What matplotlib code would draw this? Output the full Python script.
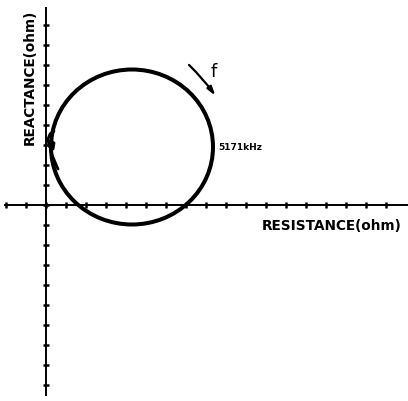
import matplotlib
matplotlib.use("Agg")
import matplotlib.pyplot as plt
from matplotlib.patches import Ellipse


# Impedance locus (data units, one grid step = 1)
loop_center = (4.3, 2.9)
loop_width = 8.1
loop_height = 7.75

# small knot where the locus starts, near the reactance axis
knot_r = [0.4, 0.2, 0.1, 0.15, 0.35, 0.4, 0.25, 0.2, 0.3, 0.6]
knot_x = [3.7, 3.55, 3.3, 2.95, 2.8, 3.1, 3.2, 2.9, 2.5, 1.8]

# axes extents and tick positions
r_axis = [-2.05, 18.1]
x_axis = [-9.5, 9.85]
r_ticks = list(range(-2, 18))
x_ticks = list(range(-9, 10))

freq_label = "5171kHz"
arrow_from = (7.05, 7.1)
arrow_to = (8.55, 5.35)

fig = plt.figure(figsize=(4.08, 4.01), dpi=100)
ax = fig.add_axes([0, 0, 1, 1])
ax.set_xlim(-2.3, 18.1)
ax.set_ylim(-9.8, 10.25)
ax.axis("off")

# axes with tick marks
ax.plot(r_axis, [0, 0], color="black", lw=1.4)
ax.plot([0, 0], x_axis, color="black", lw=1.4)
ax.plot(r_ticks, [0] * len(r_ticks), ls="none", marker="|", ms=5,
        mew=1.8, color="black")
ax.plot([0] * len(x_ticks), x_ticks, ls="none", marker="_", ms=5,
        mew=1.8, color="black")

# the loop itself
ax.add_patch(Ellipse(loop_center, loop_width, loop_height, fill=False,
                     lw=2.9, ec="black"))
ax.plot(knot_r, knot_x, color="black", lw=2.0, solid_capstyle="round")

# frequency direction arrow
ax.annotate("", xy=arrow_to, xytext=arrow_from,
            arrowprops=dict(arrowstyle="-|>,head_length=0.5,head_width=0.15",
                            connectionstyle="arc3,rad=-0.05",
                            lw=1.6, color="black"))
ax.text(8.4, 6.65, "f", fontsize=13, ha="center", va="center")

ax.text(8.6, 2.9, freq_label, fontsize=6.5, fontweight="bold", ha="left",
        va="center")

ax.text(10.8, -1.05, "RESISTANCE(ohm)", fontsize=9.8, fontweight="bold",
        ha="left", va="center")
ax.text(-0.8, 6.4, "REACTANCE(ohm)", fontsize=9.8, fontweight="bold",
        ha="center", va="center", rotation=90)

fig.savefig("out.png", dpi=100)
